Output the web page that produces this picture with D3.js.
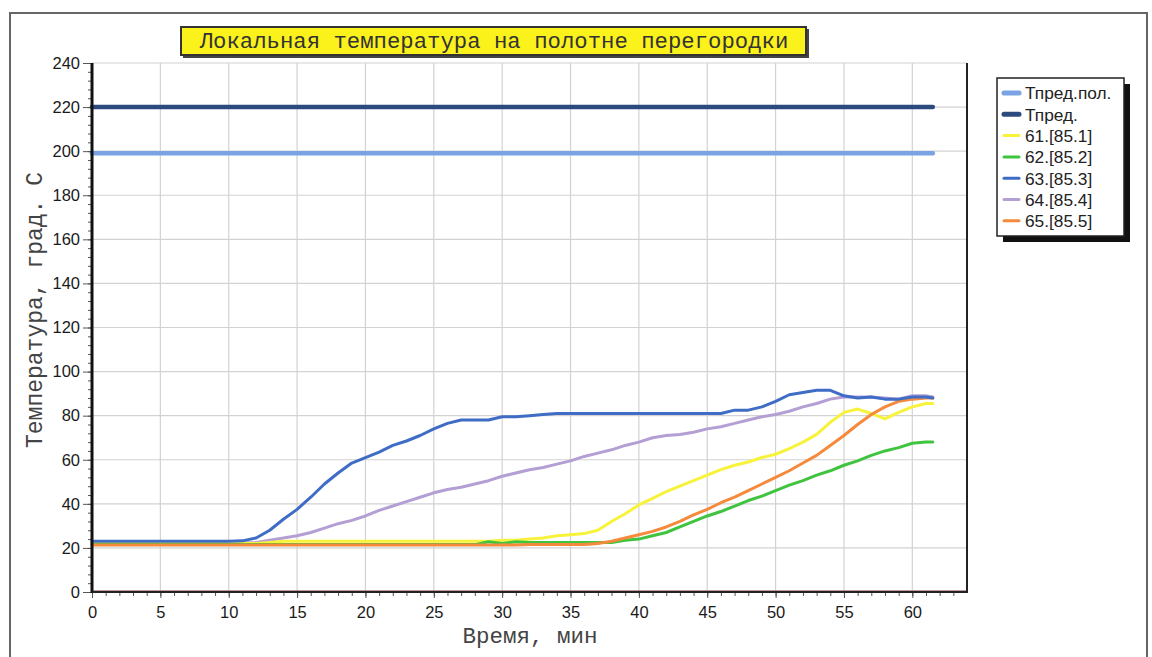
<!DOCTYPE html>
<html>
<head>
<meta charset="utf-8">
<script src="https://cdn.jsdelivr.net/npm/d3@7"></script>
<style>
  html, body { margin: 0; padding: 0; background: #ffffff; }
  svg { display: block; }
</style>
</head>
<body>
<svg id="chart" width="1152" height="657"></svg>
<script>
// ---------- DATA ----------
const chartTitle = "Локальная температура на полотне перегородки";
const xAxisTitle = "Время, мин";
const yAxisTitle = "Температура, град. С";

const xTicks = [0, 5, 10, 15, 20, 25, 30, 35, 40, 45, 50, 55, 60];
const yTicks = [0, 20, 40, 60, 80, 100, 120, 140, 160, 180, 200, 220, 240];

const minutes = [0,1,2,3,4,5,6,7,8,9,10,11,12,13,14,15,16,17,18,19,20,
  21,22,23,24,25,26,27,28,29,30,31,32,33,34,35,36,37,38,39,40,
  41,42,43,44,45,46,47,48,49,50,51,52,53,54,55,56,57,58,59,60,61,61.5];

const limitTimes = [0, 61.5];
const tPredPol = [199, 199];
const tPred = [220, 220];

const s61 = [22,22,22,22,22,22,22,22,22,22,22,22,22,22.5,23,23,23,23,23,23,23,
  23,23,23,23,23,23,23,23,23,23.5,23.5,24,24.5,25.5,26,26.5,28,32,35.5,39.5,
  42.5,45.5,48,50.5,53,55.5,57.5,59,61,62.5,65,68,71.5,77,81.5,83,81,78.5,81.5,84,85.5,85.5];

const s62 = [21.5,21.5,21.5,21.5,21.5,21.5,21.5,21.5,21.5,21.5,21.5,21.5,21.5,21.5,21.5,21.5,21.5,21.5,21.5,21.5,21.5,
  21.5,21.5,21.5,21.5,21.5,21.5,21.5,21.5,22.8,22,22.8,22.5,22.5,22.5,22.5,22.5,22.5,22.5,23.5,24,
  25.5,27,29.5,32,34.5,36.5,39,41.5,43.5,46,48.5,50.5,53,55,57.5,59.5,62,64,65.5,67.5,68,68];

const s63 = [23,23,23,23,23,23,23,23,23,23,23,23.2,24.5,28,33,37.5,43,49,54,58.5,61,
  63.5,66.5,68.5,71,74,76.5,78,78,78,79.5,79.5,80,80.5,81,81,81,81,81,81,81,
  81,81,81,81,81,81,82.5,82.5,84,86.5,89.5,90.5,91.5,91.5,89,88,88.5,87.5,87.5,88.5,88.5,88];

const s64 = [22.3,22.3,22.3,22.3,22.3,22.3,22.3,22.3,22.3,22.3,22.3,22.3,22.5,23.5,24.5,25.5,27,29,31,32.5,34.5,
  37,39,41,43,45,46.5,47.5,49,50.5,52.5,54,55.5,56.5,58,59.5,61.5,63,64.5,66.5,68,
  70,71,71.5,72.5,74,75,76.5,78,79.5,80.5,82,84,85.5,87.5,88.5,88.5,88.5,88,87.5,89,89,88.5];

const s65 = [21.3,21.3,21.3,21.3,21.3,21.3,21.3,21.3,21.3,21.3,21.3,21.3,21.3,21.3,21.3,21.3,21.3,21.3,21.3,21.3,21.3,
  21.3,21.3,21.3,21.3,21.3,21.3,21.3,21.3,21.3,21.3,21.3,21.5,21.5,21.5,21.5,21.5,22,23,24.5,26,
  27.5,29.5,32,35,37.5,40.5,43,46,49,52,55,58.5,62,66.5,71,76,80.5,84,86.5,87.5,88,88];

const legendNames = ["Тпред.пол.", "Тпред.", "61.[85.1]", "62.[85.2]", "63.[85.3]", "64.[85.4]", "65.[85.5]"];
const seriesColors = ["#79a3e2", "#2d4a7e", "#f7f23a", "#3fc43f", "#3f6dc6", "#b39fd4", "#f58a3d"];

// ---------- LAYOUT ----------
const svg = d3.select("#chart");
const plot = { left: 92, right: 967, top: 63, bottom: 592 };

const x = d3.scaleLinear().domain([0, 64]).range([plot.left, plot.right]);
const y = d3.scaleLinear().domain([0, 240]).range([plot.bottom, plot.top]);

// outer frame
svg.append("rect").attr("x", 10).attr("y", 13).attr("width", 1137).attr("height", 680)
  .attr("fill", "#ffffff").attr("stroke", "#666").attr("stroke-width", 2);

// grid
const grid = svg.append("g");
grid.selectAll("line.v").data(xTicks.filter(d => d > 0)).enter().append("line")
  .attr("x1", d => x(d)).attr("x2", d => x(d))
  .attr("y1", plot.top).attr("y2", plot.bottom)
  .attr("stroke", "#d2d2d2").attr("stroke-width", 1.2);
grid.selectAll("line.h").data(yTicks.filter(d => d > 0)).enter().append("line")
  .attr("x1", plot.left).attr("x2", plot.right)
  .attr("y1", d => y(d)).attr("y2", d => y(d))
  .attr("stroke", "#d2d2d2").attr("stroke-width", 1.2);

// zero line (other sensors)
svg.append("line").attr("x1", x(0)).attr("x2", x(64)).attr("y1", y(0) - 1).attr("y2", y(0) - 1)
  .attr("stroke", "#b07a7a").attr("stroke-width", 1.5);

// series
const line = d3.line().x(d => x(d[0])).y(d => y(d[1]));
function drawSeries(times, vals, color, width) {
  svg.append("path")
    .datum(times.map((t, i) => [t, vals[i]]))
    .attr("d", line)
    .attr("fill", "none")
    .attr("stroke", color)
    .attr("stroke-width", width)
    .attr("stroke-linejoin", "round")
    .attr("stroke-linecap", "round");
}
drawSeries(limitTimes, tPredPol, seriesColors[0], 4.5);
drawSeries(limitTimes, tPred, seriesColors[1], 4.5);
drawSeries(minutes, s64, seriesColors[5], 3);
drawSeries(minutes, s61, seriesColors[2], 3);
drawSeries(minutes, s62, seriesColors[3], 3);
drawSeries(minutes, s65, seriesColors[6], 3);
drawSeries(minutes, s63, seriesColors[4], 3);

// axes
const yAxis = d3.axisLeft(y).tickValues(yTicks).tickSize(9).tickPadding(3).tickFormat(d3.format("d"));
const yMinor = d3.axisLeft(y).tickValues(d3.range(0, 241, 4)).tickSize(4).tickFormat("");
const xAxis = d3.axisBottom(x).tickValues(xTicks).tickSize(6).tickPadding(8).tickFormat(d3.format("d"));
const xMinor = d3.axisBottom(x).tickValues(d3.range(0, 64, 1)).tickSize(4).tickFormat("");

const gyMinor = svg.append("g").attr("transform", `translate(${plot.left},0)`).call(yMinor);
const gy = svg.append("g").attr("transform", `translate(${plot.left},0)`).call(yAxis);
const gxMinor = svg.append("g").attr("transform", `translate(0,${plot.bottom})`).call(xMinor);
const gx = svg.append("g").attr("transform", `translate(0,${plot.bottom})`).call(xAxis);

[gy, gyMinor, gx, gxMinor].forEach(g => {
  g.select(".domain").remove();
  g.selectAll(".tick line").attr("stroke", "#555").attr("stroke-width", 1);
});
gy.selectAll("text").attr("font-family", "Liberation Sans, Arial, sans-serif")
  .attr("font-size", 16.5).attr("fill", "#1a1a1a");
gx.selectAll("text").attr("font-family", "Liberation Sans, Arial, sans-serif")
  .attr("font-size", 16.5).attr("fill", "#1a1a1a");

// axis lines
svg.append("line").attr("x1", plot.left).attr("x2", plot.left).attr("y1", plot.top).attr("y2", plot.bottom + 1)
  .attr("stroke", "#111").attr("stroke-width", 3);
svg.append("line").attr("x1", plot.left).attr("x2", plot.right).attr("y1", plot.bottom).attr("y2", plot.bottom)
  .attr("stroke", "#222").attr("stroke-width", 2);
svg.append("line").attr("x1", plot.right).attr("x2", plot.right).attr("y1", plot.top).attr("y2", plot.bottom + 1)
  .attr("stroke", "#222").attr("stroke-width", 2);

// axis titles
svg.append("text").attr("x", 530).attr("y", 643)
  .attr("text-anchor", "middle").attr("font-family", "Liberation Mono, Courier New, monospace")
  .attr("font-size", 22.5).attr("fill", "#444").text(xAxisTitle);
svg.append("text").attr("transform", "translate(42,310) rotate(-90)")
  .attr("text-anchor", "middle").attr("font-family", "Liberation Mono, Courier New, monospace")
  .attr("font-size", 23).attr("fill", "#444").text(yAxisTitle);

// title
svg.append("rect").attr("x", 183).attr("y", 29).attr("width", 626).attr("height", 29)
  .attr("fill", "#444");
svg.append("rect").attr("x", 181).attr("y", 27).attr("width", 625).attr("height", 28)
  .attr("fill", "#fbf21c").attr("stroke", "#333").attr("stroke-width", 2);
svg.append("text").attr("x", 494).attr("y", 48).attr("text-anchor", "middle")
  .attr("font-family", "Liberation Mono, Courier New, monospace")
  .attr("font-size", 22.3).attr("fill", "#333").text(chartTitle);

// legend
const lg = svg.append("g");
lg.append("rect").attr("x", 1003).attr("y", 84).attr("width", 127).attr("height", 158).attr("fill", "#111");
lg.append("rect").attr("x", 997).attr("y", 78).attr("width", 127).attr("height", 158)
  .attr("fill", "#fff").attr("stroke", "#222").attr("stroke-width", 1.5);
const items = lg.selectAll("g.item").data(legendNames).enter().append("g")
  .attr("transform", (d, i) => `translate(1002,${93 + i * 21.3})`);
items.append("line").attr("x1", 2).attr("x2", 17).attr("y1", 0).attr("y2", 0)
  .attr("stroke", (d, i) => seriesColors[i]).attr("stroke-width", (d, i) => i < 2 ? 5 : 3)
  .attr("stroke-linecap", "round");
items.append("text").attr("x", 23).attr("y", 6.3)
  .attr("font-family", "Liberation Sans, Arial, sans-serif").attr("font-size", 17.3)
  .attr("fill", "#222").text(d => d);
</script>
</body>
</html>
